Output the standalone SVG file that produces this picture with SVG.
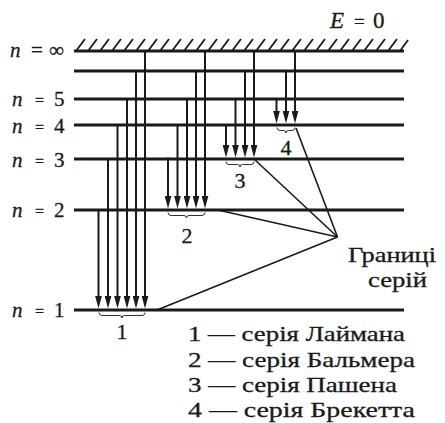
<svg xmlns="http://www.w3.org/2000/svg" width="445" height="423" viewBox="0 0 445 423" font-family="'Liberation Serif', 'Times New Roman', serif">
<style>
.lvl{stroke:#1a1a1a;stroke-width:3;fill:none}
.hatch{stroke:#1a1a1a;stroke-width:1.8;fill:none}
.arr{stroke:#1a1a1a;stroke-width:2;fill:none;marker-end:url(#ah)}
.lim{stroke:#1a1a1a;stroke-width:1.6;fill:none}
.brace{stroke:#1a1a1a;stroke-width:0.9;fill:none}
.t{font-family:'Liberation Serif','Times New Roman',serif;fill:#1a1a1a;stroke:#1a1a1a;stroke-width:0.3}
.lab{font-size:21px}
.it{font-style:italic}
.num{font-size:22px}
.leg{font-size:21px}
</style>
<defs>
<marker id="ah" markerUnits="userSpaceOnUse" markerWidth="13" markerHeight="7" refX="3" refY="3.5" orient="auto">
<path d="M0,0 L13,3.5 L0,7 z" fill="#1a1a1a"/>
</marker>
</defs>

<g id="energy-zero">
<text class="t" x="330" y="28" font-family="Liberation Serif" style="font-size:23px"><tspan class="it">E</tspan><tspan x="354" style="font-size:19px">=</tspan><tspan x="373">0</tspan></text>
<path class="hatch" d="M76,51l9,-12M88,51l9,-12M100,51l9,-12M112,51l9,-12M124,51l9,-12M136,51l9,-12M148,51l9,-12M160,51l9,-12M172,51l9,-12M184,51l9,-12M196,51l9,-12M208,51l9,-12M220,51l9,-12M232,51l9,-12M244,51l9,-12M256,51l9,-12M268,51l9,-12M280,51l9,-12M292,51l9,-12M304,51l9,-12M316,51l9,-12M328,51l9,-12M340,51l9,-12M352,51l9,-12M364,51l9,-12M376,51l9,-12M388,51l9,-12M400,51l8,-11"/>
</g>

<g id="level-inf">
<line class="lvl" x1="74" y1="51" x2="404" y2="51"/>
<text class="t lab" x="10" y="57" font-family="Liberation Serif"><tspan class="it">n</tspan><tspan x="31">=</tspan><tspan x="49">∞</tspan></text>
</g>
<g id="level-6">
<line class="lvl" x1="74" y1="71" x2="404" y2="71"/>
</g>
<g id="level-5">
<line class="lvl" x1="74" y1="99" x2="404" y2="99"/>
<text class="t lab" x="12" y="106" font-family="Liberation Serif"><tspan class="it">n</tspan><tspan x="35" style="font-size:16px">=</tspan><tspan x="54">5</tspan></text>
</g>
<g id="level-4">
<line class="lvl" x1="74" y1="125" x2="404" y2="125"/>
<text class="t lab" x="12" y="133" font-family="Liberation Serif"><tspan class="it">n</tspan><tspan x="35" style="font-size:16px">=</tspan><tspan x="54">4</tspan></text>
</g>
<g id="level-3">
<line class="lvl" x1="74" y1="159" x2="404" y2="159"/>
<text class="t lab" x="12" y="167" font-family="Liberation Serif"><tspan class="it">n</tspan><tspan x="35" style="font-size:16px">=</tspan><tspan x="54">3</tspan></text>
</g>
<g id="level-2">
<line class="lvl" x1="74" y1="210" x2="404" y2="210"/>
<text class="t lab" x="12" y="217" font-family="Liberation Serif"><tspan class="it">n</tspan><tspan x="35" style="font-size:16px">=</tspan><tspan x="54">2</tspan></text>
</g>
<g id="level-1">
<line class="lvl" x1="74" y1="310" x2="404" y2="310"/>
<text class="t lab" x="12" y="317" font-family="Liberation Serif"><tspan class="it">n</tspan><tspan x="35" style="font-size:16px">=</tspan><tspan x="54">1</tspan></text>
</g>

<g id="connectors">
<line class="arr" x1="145" y1="51" x2="145" y2="298.5"/>
<line class="arr" x1="136" y1="71" x2="136" y2="298.5"/>
<line class="arr" x1="127" y1="99" x2="127" y2="298.5"/>
<line class="arr" x1="117.5" y1="125" x2="117.5" y2="298.5"/>
<line class="arr" x1="108" y1="159" x2="108" y2="298.5"/>
<line class="arr" x1="98.5" y1="210" x2="98.5" y2="298.5"/>
<line class="arr" x1="205" y1="51" x2="205" y2="198.5"/>
<line class="arr" x1="196" y1="71" x2="196" y2="198.5"/>
<line class="arr" x1="187" y1="99" x2="187" y2="198.5"/>
<line class="arr" x1="177.5" y1="125" x2="177.5" y2="198.5"/>
<line class="arr" x1="168" y1="157.5" x2="168" y2="198.5"/>
<line class="arr" x1="254" y1="51" x2="254" y2="147.5"/>
<line class="arr" x1="245" y1="71" x2="245" y2="147.5"/>
<line class="arr" x1="235.5" y1="99" x2="235.5" y2="147.5"/>
<line class="arr" x1="226" y1="125" x2="226" y2="147.5"/>
<line class="arr" x1="295" y1="51" x2="295" y2="113.5"/>
<line class="arr" x1="286" y1="71" x2="286" y2="113.5"/>
<line class="arr" x1="276.5" y1="99" x2="276.5" y2="113.5"/>
<line class="lim" x1="296" y1="128" x2="337.5" y2="237"/>
<line class="lim" x1="254" y1="159" x2="337.5" y2="237"/>
<line class="lim" x1="220" y1="210.5" x2="337.5" y2="237"/>
<line class="lim" x1="157" y1="310" x2="337.5" y2="237"/>
</g>

<g id="series-1">
<path class="brace" d="M99,312.5 Q99,315.5 102,315.5 L119.5,315.5 Q122,315.5 122,318 Q122,315.5 124.5,315.5 L142,315.5 Q145,315.5 145,312.5"/>
<text class="t num" x="122" y="339" text-anchor="middle" font-family="Liberation Serif">1</text>
</g>
<g id="series-2">
<path class="brace" d="M168,212.5 Q168,215.5 171,215.5 L184,215.5 Q186.5,215.5 186.5,218 Q186.5,215.5 189,215.5 L202,215.5 Q205,215.5 205,212.5"/>
<text class="t num" x="187" y="243" text-anchor="middle" font-family="Liberation Serif">2</text>
</g>
<g id="series-3">
<path class="brace" d="M226,161.5 Q226,164.5 229,164.5 L237.5,164.5 Q240,164.5 240,167 Q240,164.5 242.5,164.5 L251,164.5 Q254,164.5 254,161.5"/>
<text class="t num" x="240" y="188" text-anchor="middle" font-family="Liberation Serif">3</text>
</g>
<g id="series-4">
<path class="brace" d="M277,127.5 Q277,130.5 280,130.5 L283.5,130.5 Q286,130.5 286,133 Q286,130.5 288.5,130.5 L292,130.5 Q295,130.5 295,127.5"/>
<text class="t num" x="286" y="155" text-anchor="middle" font-family="Liberation Serif">4</text>
</g>

<g id="limits-label">
<text class="t leg" x="348" y="262" textLength="88" lengthAdjust="spacingAndGlyphs" font-family="Liberation Serif">Границі</text>
<text class="t leg" x="368" y="287" textLength="59" lengthAdjust="spacingAndGlyphs" font-family="Liberation Serif">серій</text>
</g>

<g id="legend">
<text class="t leg" x="188" y="341" textLength="217" lengthAdjust="spacingAndGlyphs" font-family="Liberation Serif">1 — серія Лаймана</text>
<text class="t leg" x="188" y="366.5" textLength="227" lengthAdjust="spacingAndGlyphs" font-family="Liberation Serif">2 — серія Бальмера</text>
<text class="t leg" x="188" y="392" textLength="209" lengthAdjust="spacingAndGlyphs" font-family="Liberation Serif">3 — серія Пашена</text>
<text class="t leg" x="188" y="417" textLength="227" lengthAdjust="spacingAndGlyphs" font-family="Liberation Serif">4 — серія Брекетта</text>
</g>
</svg>
